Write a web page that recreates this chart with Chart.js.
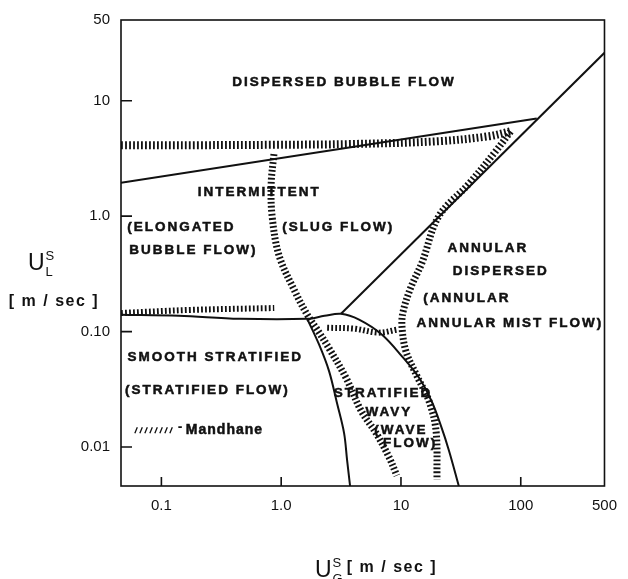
<!DOCTYPE html>
<html lang="en">
<head>
<meta charset="UTF-8">
<script src="https://cdn.jsdelivr.net/npm/chart.js"></script>
<style>
  html, body { margin: 0; padding: 0; background: #fff; }
  canvas { display: block; }
</style>
<title>Flow pattern map</title>
</head>
<body>
<canvas id="myChart" width="628" height="579"></canvas>
<script>
// axes (log-log), gas velocity on x, liquid velocity on y
const xTicks = [0.1, 1, 10, 100, 500];
const xTickLabels = ['0.1', '1.0', '10', '100', '500'];
const yTicks = [0.01, 0.1, 1, 10, 50];
const yTickLabels = ['0.01', '0.10', '1.0', '10', '50'];

// solid boundaries (theory)
const bubbleX = [0.046, 136];
const bubbleY = [1.95, 7.0];
const annularX = [3.16, 500];
const annularY = [0.1426, 26];
const stratX = [0.046, 0.14, 0.45, 1.65, 2.3, 3.16, 4.47, 6.95, 10.2, 14.1, 18.1, 21.5, 25.1, 30.4];
const stratY = [0.140, 0.137, 0.129, 0.129, 0.137, 0.1426, 0.127, 0.094, 0.061, 0.040, 0.0247, 0.0154, 0.0094, 0.0046];
const wavyX = [1.65, 2.07, 2.51, 2.93, 3.35, 3.55, 3.76];
const wavyY = [0.129, 0.0774, 0.0455, 0.0238, 0.0132, 0.0077, 0.0046];

// hatched boundaries (Mandhane)
const mBubbleX = [0.046, 0.207, 0.87, 3.69, 20.7, 54, 82.5];
const mBubbleY = [4.12, 4.12, 4.15, 4.21, 4.46, 4.92, 5.43];
const mAnnularX = [82.5, 61.9, 36.9, 20.7, 15.0, 12.1, 10.4, 10.2, 11.0, 13.6, 17.1, 19.6, 20];
const mAnnularY = [5.43, 3.66, 1.91, 1.0, 0.397, 0.242, 0.148, 0.110, 0.0675, 0.0412, 0.0252, 0.0140, 0.0052];
const mSlugX = [0.87, 0.825, 0.84, 0.96, 1.31, 1.65, 2.0, 2.51, 3.48, 4.64, 6.2, 7.94, 9.24];
const mSlugY = [3.45, 1.91, 1.0, 0.455, 0.22, 0.14, 0.104, 0.0716, 0.0397, 0.0207, 0.0132, 0.0082, 0.00565];
const mWavyX = [2.42, 4.06, 6.56, 9.24];
const mWavyY = [0.108, 0.106, 0.098, 0.104];
const mStratX = [0.046, 0.171, 0.875];
const mStratY = [0.145, 0.154, 0.16];

// region names, anchored in data units
const regionLabels = [
  { text: 'DISPERSED BUBBLE FLOW', x: 3.35, y: 14.5 },
  { text: 'INTERMITTENT', x: 0.656, y: 1.6 },
  { text: '(ELONGATED', x: 0.147, y: 0.805 },
  { text: 'BUBBLE FLOW)', x: 0.185, y: 0.502 },
  { text: '(SLUG FLOW)', x: 2.99, y: 0.805 },
  { text: 'ANNULAR', x: 53.1, y: 0.522 },
  { text: 'DISPERSED', x: 68.1, y: 0.332 },
  { text: '(ANNULAR', x: 35.5, y: 0.195 },
  { text: 'ANNULAR MIST FLOW)', x: 81, y: 0.119 },
  { text: 'SMOOTH STRATIFIED', x: 0.282, y: 0.06 },
  { text: '(STRATIFIED FLOW)', x: 0.242, y: 0.0313 },
  { text: 'STRATIFIED', x: 7.08, y: 0.029 },
  { text: 'WAVY', x: 7.94, y: 0.0199 },
  { text: '(WAVE', x: 10, y: 0.014 },
  { text: 'FLOW)', x: 11.9, y: 0.0108 }
];
const legendAt = { x0: 0.06, x1: 0.128, y: 0.014, textX: 0.16 };

function pts(xs, ys) {
  return xs.map((v, i) => ({ x: v, y: ys[i] }));
}
function solid(xs, ys, tension) {
  return { data: pts(xs, ys), showLine: true, borderColor: '#111', borderWidth: 2,
           pointRadius: 0, tension: tension, clip: 0 };
}
function hatched(xs, ys, w) {
  return { data: pts(xs, ys), showLine: true, borderColor: '#111', borderWidth: w,
           borderDash: [1.8, 2.2], borderCapStyle: 'butt', pointRadius: 0, tension: 0.35, clip: 0 };
}

function drawU(ctx, left, base, sup, sub) {
  ctx.font = '23px "Liberation Sans"';
  ctx.textAlign = 'left';
  ctx.textBaseline = 'alphabetic';
  ctx.fillText('U', left, base);
  const w = ctx.measureText('U').width + 1;
  ctx.font = '13px "Liberation Sans"';
  ctx.fillText(sup, left + w, base - 10);
  ctx.fillText(sub, left + w, base + 6);
}

// heavy lettering like the drawn original
function boldText(ctx, t, px, py) {
  ctx.fillText(t, px, py);
  ctx.strokeText(t, px, py);
}

const decor = {
  id: 'decor',
  afterDatasetsDraw(chart) {
    const ctx = chart.ctx;
    const a = chart.chartArea;
    const x = chart.scales.x, y = chart.scales.y;
    ctx.save();
    ctx.strokeStyle = '#111';
    ctx.fillStyle = '#111';
    ctx.lineWidth = 1.6;
    ctx.strokeRect(a.left, a.top, a.right - a.left, a.bottom - a.top);

    // ticks point into the plot
    ctx.beginPath();
    xTicks.forEach(v => {
      if (v < x.max) { const p = x.getPixelForValue(v); ctx.moveTo(p, a.bottom); ctx.lineTo(p, a.bottom - 9); }
    });
    yTicks.forEach(v => {
      if (v < y.max) { const p = y.getPixelForValue(v); ctx.moveTo(a.left, p); ctx.lineTo(a.left + 11, p); }
    });
    ctx.stroke();

    ctx.font = 'bold 13.5px "Liberation Sans"';
    ctx.letterSpacing = '2px';
    ctx.lineWidth = 0.5;
    ctx.textAlign = 'center';
    ctx.textBaseline = 'middle';
    regionLabels.forEach(l => {
      boldText(ctx, l.text, x.getPixelForValue(l.x), y.getPixelForValue(l.y));
    });

    // legend: little hatch then name
    const lx0 = x.getPixelForValue(legendAt.x0), lx1 = x.getPixelForValue(legendAt.x1);
    const ly = y.getPixelForValue(legendAt.y);
    ctx.lineWidth = 1.3;
    ctx.beginPath();
    for (let p = lx0; p <= lx1; p += 5) { ctx.moveTo(p, ly + 3); ctx.lineTo(p + 2.5, ly - 3); }
    ctx.stroke();
    ctx.letterSpacing = '1px';
    ctx.lineWidth = 0.5;
    ctx.font = 'bold 14px "Liberation Sans"';
    ctx.textAlign = 'left';
    ctx.fillText('-', x.getPixelForValue(legendAt.textX) - 8, ly - 3);
    boldText(ctx, 'Mandhane', x.getPixelForValue(legendAt.textX), ly);

    // axis titles
    ctx.letterSpacing = '0px';
    drawU(ctx, a.left - 93, a.top + 250, 'S', 'L');
    ctx.font = 'bold 16px "Liberation Sans"';
    ctx.letterSpacing = '1.5px';
    ctx.textAlign = 'center';
    ctx.textBaseline = 'middle';
    ctx.fillText('[ m / sec ]', a.left - 67, a.top + 282);

    ctx.letterSpacing = '0px';
    drawU(ctx, a.left + 194, a.bottom + 91, 'S', 'G');
    ctx.font = 'bold 16px "Liberation Sans"';
    ctx.letterSpacing = '1.5px';
    ctx.textAlign = 'center';
    ctx.textBaseline = 'middle';
    ctx.fillText('[ m / sec ]', a.left + 271, a.bottom + 82);
    ctx.restore();
  }
};

const ctx = document.getElementById('myChart');
const myChart = new Chart(ctx, {
  type: 'scatter',
  data: {
    datasets: [
      solid(bubbleX, bubbleY, 0),
      solid(annularX, annularY, 0),
      solid(stratX, stratY, 0.35),
      solid(wavyX, wavyY, 0.35),
      hatched(mBubbleX, mBubbleY, 8),
      hatched(mAnnularX, mAnnularY, 7),
      hatched(mSlugX, mSlugY, 7),
      hatched(mWavyX, mWavyY, 6),
      hatched(mStratX, mStratY, 6)
    ]
  },
  options: {
    responsive: false,
    animation: false,
    devicePixelRatio: 1,
    layout: { padding: { top: 15, right: 23, left: 0, bottom: 0 } },
    plugins: { legend: { display: false }, tooltip: { enabled: false } },
    scales: {
      x: {
        type: 'logarithmic',
        min: 0.046,
        max: 500,
        afterFit: s => { s.height = 93; },
        afterBuildTicks: s => { s.ticks = xTicks.map(v => ({ value: v })); },
        grid: { display: false, drawTicks: false },
        border: { display: false },
        ticks: {
          autoSkip: false, maxRotation: 0, padding: 11, color: '#111',
          font: { family: 'Liberation Sans', size: 15 },
          callback: (v) => { const i = xTicks.indexOf(v); return i < 0 ? '' : xTickLabels[i]; }
        }
      },
      y: {
        type: 'logarithmic',
        min: 0.0046,
        max: 50,
        afterFit: s => { s.width = 121; },
        afterBuildTicks: s => { s.ticks = yTicks.map(v => ({ value: v })); },
        grid: { display: false, drawTicks: false },
        border: { display: false },
        ticks: {
          autoSkip: false, padding: 11, color: '#111',
          font: { family: 'Liberation Sans', size: 15 },
          callback: (v) => { const i = yTicks.indexOf(v); return i < 0 ? '' : yTickLabels[i]; }
        }
      }
    }
  },
  plugins: [decor]
});
</script>
</body>
</html>
